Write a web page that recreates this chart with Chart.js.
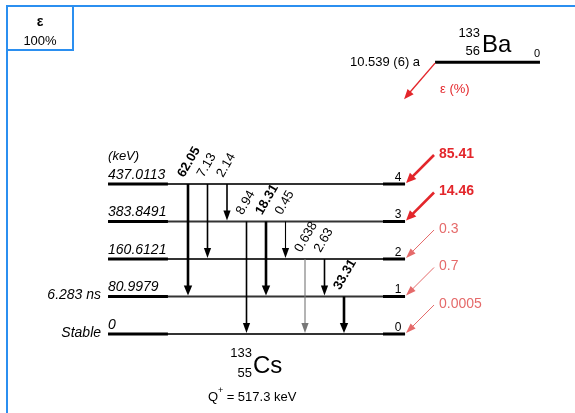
<!DOCTYPE html>
<html>
<head>
<meta charset="utf-8">
<script src="https://cdn.jsdelivr.net/npm/chart.js@4/dist/chart.umd.min.js"></script>
<style>
  html, body { margin: 0; padding: 0; background: #fff; }
  canvas { display: block; }
</style>
</head>
<body>
<canvas id="scheme" width="575" height="413"></canvas>
<script>
// ─── Data: 133Ba -> 133Cs electron capture ───

// daughter levels, index = level number
const levelEnergies  = ["0", "80.9979", "160.6121", "383.8491", "437.0113"];
const levelHalfLives = ["Stable", "6.283 ns", "", "", ""];
const feedingPct     = ["0.0005", "0.7", "0.3", "14.46", "85.41"];

// gamma transitions, left to right
const gammaLabels    = ["62.05", "7.13", "2.14", "8.94", "18.31", "0.45", "0.638", "2.63", "33.31"];
const gammaFrom      = [4, 4, 4, 3, 3, 3, 2, 2, 1];
const gammaTo        = [1, 2, 3, 0, 1, 2, 0, 1, 0];
const gammaIntensity = [62.05, 7.13, 2.14, 8.94, 18.31, 0.45, 0.638, 2.63, 33.31];

// parent / decay info
const parent = { mass: "133", z: "56", sym: "Ba", halfLife: "10.539 (6) a", level: "0" };
const daughter = { mass: "133", z: "55", sym: "Cs", q: "517.3 keV" };
const decayMode = { sym: "ε", branch: "100%" };

// ─── Layout (slot units on x, level units on y) ───
const LEFT = -4.1, LEFT_THICK = -1.03, RIGHT_THICK = 10.0, RIGHT = 11.13;
const PARENT_Y = 7.25, PARENT_X0 = 12.67, PARENT_X1 = 18.05;
const FONT = '"Liberation Sans", Arial, sans-serif';
const RED = "#e3262b", RED_LIGHT = "#e56a6a";

const gammaWidth = v => v > 15 ? 2.6 : v >= 1 ? 1.6 : 1.1;
const gammaColor = (v, i) => gammaLabels[i] === "0.638" ? "#777" : "#000";

// ── datasets ──
const datasets = [];
gammaLabels.forEach((lab, i) => {
  datasets.push({
    data: [{ x: i, y: gammaFrom[i] }, { x: i, y: gammaTo[i] + 0.2 }],
    borderColor: gammaColor(gammaIntensity[i], i),
    borderWidth: gammaWidth(gammaIntensity[i]),
    order: 0, gamma: i
  });
});
levelEnergies.forEach((e, i) => {
  datasets.push({ data: [{ x: LEFT, y: i }, { x: RIGHT, y: i }], borderColor: "#333", borderWidth: 1.8, order: 2 });
  datasets.push({ data: [{ x: LEFT, y: i }, { x: LEFT_THICK, y: i }], borderColor: "#000", borderWidth: 3, order: 1 });
  datasets.push({ data: [{ x: RIGHT_THICK, y: i }, { x: RIGHT, y: i }], borderColor: "#000", borderWidth: 3, order: 1 });
});
datasets.push({ data: [{ x: PARENT_X0, y: PARENT_Y }, { x: PARENT_X1, y: PARENT_Y }], borderColor: "#000", borderWidth: 3, order: 1 });
datasets.forEach(d => { d.showLine = true; d.pointRadius = 0; d.borderCapStyle = "butt"; d.fill = false; });

// ── helpers ──
function arrowHead(ctx, x0, y0, x1, y1, len, half, color) {
  const a = Math.atan2(y1 - y0, x1 - x0);
  ctx.save();
  ctx.fillStyle = color;
  ctx.beginPath();
  ctx.moveTo(x1, y1);
  ctx.lineTo(x1 - len * Math.cos(a) + half * Math.sin(a), y1 - len * Math.sin(a) - half * Math.cos(a));
  ctx.lineTo(x1 - len * Math.cos(a) - half * Math.sin(a), y1 - len * Math.sin(a) + half * Math.cos(a));
  ctx.closePath();
  ctx.fill();
  ctx.restore();
}
function arrow(ctx, x0, y0, x1, y1, w, color, len, half) {
  const a = Math.atan2(y1 - y0, x1 - x0);
  ctx.save();
  ctx.strokeStyle = color;
  ctx.lineWidth = w;
  ctx.beginPath();
  ctx.moveTo(x0, y0);
  ctx.lineTo(x1 - len * 0.7 * Math.cos(a), y1 - len * 0.7 * Math.sin(a));
  ctx.stroke();
  ctx.restore();
  arrowHead(ctx, x0, y0, x1, y1, len, half, color);
}
function text(ctx, s, x, y, font, color, align, base) {
  ctx.font = font;
  ctx.fillStyle = color || "#000";
  ctx.textAlign = align || "left";
  ctx.textBaseline = base || "alphabetic";
  ctx.fillText(s, x, y);
}

// ── plugin: frame, arrowheads, labels ──
const schemePlugin = {
  id: "scheme",
  beforeDraw(chart) {
    const ctx = chart.ctx;
    ctx.save();
    ctx.fillStyle = "#fff";
    ctx.fillRect(0, 0, chart.width, chart.height);
    ctx.strokeStyle = "#2b8ff0";
    ctx.lineWidth = 2;
    ctx.beginPath();
    ctx.moveTo(575, 6); ctx.lineTo(7, 6); ctx.lineTo(7, 413);
    ctx.rect(7, 6, 66, 44);
    ctx.stroke();
    ctx.restore();
  },
  afterDatasetsDraw(chart) {
    const ctx = chart.ctx, xs = chart.scales.x, ys = chart.scales.y;

    // gamma arrowheads + labels
    gammaLabels.forEach((lab, i) => {
      const x = xs.getPixelForValue(i);
      const yTo = ys.getPixelForValue(gammaTo[i]);
      const yFrom = ys.getPixelForValue(gammaFrom[i]);
      const v = gammaIntensity[i];
      const half = v > 15 ? 4.2 : 3.6;
      arrowHead(ctx, x, yFrom, x, yTo - 1, 10, half, gammaColor(v, i));
      ctx.save();
      ctx.translate(x - 4, yFrom - 6);
      ctx.rotate(-Math.PI / 3);
      text(ctx, lab, 0, 0, (v > 15 ? "bold " : "") + "13px " + FONT, "#000");
      ctx.restore();
    });

    // level labels
    levelEnergies.forEach((e, i) => {
      const y = ys.getPixelForValue(i);
      const xl = xs.getPixelForValue(LEFT);
      const xr = xs.getPixelForValue(RIGHT);
      text(ctx, e, xl, y - 5, "italic 14px " + FONT, "#000");
      if (levelHalfLives[i]) text(ctx, levelHalfLives[i], xl - 7, y - 1, "italic 14px " + FONT, "#000", "right", "middle");
      text(ctx, String(i), xr - 7, y - 3, "12px " + FONT, "#000", "center");

      // feeding arrows
      const big = parseFloat(feedingPct[i]) > 10;
      const col = big ? RED : RED_LIGHT;
      arrow(ctx, xr + 29, y - 29, xr + 1, y - 1, big ? 2.6 : 1, col, 10, big ? 4.5 : 3.5);
      text(ctx, feedingPct[i], xr + 34, y - 30, (big ? "bold " : "") + "14px " + FONT, col, "left", "middle");
    });
    const yTop = ys.getPixelForValue(levelEnergies.length - 1);
    text(ctx, "(keV)", xs.getPixelForValue(LEFT), yTop - 28, "italic 13px " + FONT, "#000", "left", "middle");

    // parent
    const px0 = xs.getPixelForValue(PARENT_X0), px1 = xs.getPixelForValue(PARENT_X1);
    const py = ys.getPixelForValue(PARENT_Y);
    text(ctx, parent.sym, px0 + 47, py - 10, "24px " + FONT, "#000");
    text(ctx, parent.mass, px0 + 45, py - 25, "13px " + FONT, "#000", "right");
    text(ctx, parent.z, px0 + 45, py - 7, "13px " + FONT, "#000", "right");
    text(ctx, parent.level, px1 - 3, py - 5, "11px " + FONT, "#000", "center");
    text(ctx, parent.halfLife, px0 - 15, py, "13px " + FONT, "#000", "right", "middle");
    arrow(ctx, px0, py + 1, px0 - 31, py + 37, 1.4, RED, 10, 4);
    text(ctx, decayMode.sym + " (%)", px0 + 5, py + 27, "13px " + FONT, RED, "left", "middle");

    // daughter
    const dx = xs.getPixelForValue(3.33), dy = ys.getPixelForValue(0);
    text(ctx, daughter.sym, dx, dy + 39, "24px " + FONT, "#000");
    text(ctx, daughter.mass, dx - 1, dy + 23, "13px " + FONT, "#000", "right");
    text(ctx, daughter.z, dx - 1, dy + 43, "13px " + FONT, "#000", "right");
    const qx = dx - 45, qy = dy + 63;
    text(ctx, "Q", qx, qy, "13px " + FONT, "#000", "left", "middle");
    ctx.font = "13px " + FONT;
    const qw = ctx.measureText("Q").width;
    text(ctx, "+", qx + qw, qy - 6, "9px " + FONT, "#000", "left", "middle");
    text(ctx, " = " + daughter.q, qx + qw + 5, qy, "13px " + FONT, "#000", "left", "middle");

    // decay mode box
    text(ctx, decayMode.sym, 40, 22, "bold 14px " + FONT, "#000", "center", "middle");
    text(ctx, decayMode.branch, 40, 41, "13px " + FONT, "#000", "center", "middle");
  }
};

new Chart(document.getElementById("scheme"), {
  type: "scatter",
  data: { datasets },
  options: {
    responsive: false,
    animation: false,
    devicePixelRatio: 1,
    layout: { padding: 0 },
    plugins: { legend: { display: false }, tooltip: { enabled: false } },
    scales: {
      x: { type: "linear", display: false, min: -9.641, max: 19.846 },
      y: { type: "linear", display: false, min: -2.107, max: 8.907 }
    }
  },
  plugins: [schemePlugin]
});
</script>
</body>
</html>
